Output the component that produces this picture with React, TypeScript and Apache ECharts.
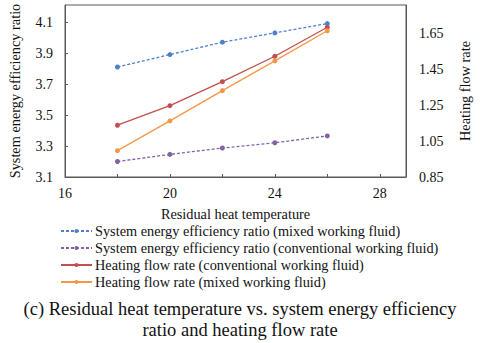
import React, { useEffect, useRef } from "react";
import * as echarts from "echarts";

const temps = [18, 20, 22, 24, 26];
const seerMixed = [3.81, 3.89, 3.97, 4.03, 4.09];
const seerConv = [3.2, 3.246, 3.287, 3.321, 3.365];
const flowConv = [1.139, 1.248, 1.382, 1.524, 1.686];
const flowMixed = [0.997, 1.163, 1.332, 1.498, 1.666];

const names = [
  "System energy efficiency ratio (mixed working fluid)",
  "System energy efficiency ratio (conventional working fluid)",
  "Heating flow rate (conventional working fluid)",
  "Heating flow rate (mixed working fluid)",
];
const colors = ["#4F81C7", "#8064A2", "#C0504D", "#F79646"];
const caption = [
  "(c) Residual heat temperature vs. system energy efficiency",
  "ratio and heating flow rate",
];

const FONT = "Liberation Serif";

export default function App() {
  const ref = useRef<HTMLDivElement>(null);
  useEffect(() => {
    if (!ref.current) return;
    const chart = echarts.init(ref.current, undefined, { renderer: "svg" });
    const pair = (ys: number[]) => temps.map((t, i) => [t, ys[i]]);
    const mk = (i: number, ys: number[], axis: number, dashed: boolean) => ({
      name: names[i],
      type: "line",
      yAxisIndex: axis,
      data: pair(ys),
      symbol: "circle",
      symbolSize: 5,
      color: colors[i],
      lineStyle: { width: 1.3, type: dashed ? [3, 2] : "solid", color: colors[i] },
      itemStyle: { color: colors[i] },
    });
    const txt = (size: number) => ({ fontFamily: FONT, fontSize: size, color: "#111" });
    chart.setOption({
      animation: false,
      textStyle: { fontFamily: FONT },
      grid: {
        left: 56,
        right: 63,
        top: 5,
        bottom: 166,
        show: true,
        borderColor: "#595959",
        borderWidth: 1,
      },
      legend: {
        orient: "vertical",
        left: 55,
        top: 219,
        itemWidth: 31,
        itemHeight: 5,
        itemGap: 3,
        data: names,
        textStyle: { ...txt(14.3), padding: [0, 0, 0, -2] },
      },
      xAxis: {
        type: "value",
        min: 16,
        max: 29,
        interval: 2,
        name: "Residual heat temperature",
        nameLocation: "middle",
        nameGap: 30,
        nameTextStyle: txt(14.3),
        axisLine: { lineStyle: { color: "#595959" } },
        axisTick: { inside: true, length: 3, lineStyle: { color: "#595959" } },
        splitLine: { show: false },
        axisLabel: {
          margin: 9,
          ...txt(14),
          showMaxLabel: false,
          formatter: (v: number) => ((v - 16) % 4 === 0 ? String(v) : ""),
        },
      },
      yAxis: [
        {
          type: "value",
          min: 3.1,
          max: 4.21,
          interval: 0.2,
          name: "System energy efficiency ratio",
          nameLocation: "middle",
          nameGap: 43,
          nameTextStyle: txt(14.3),
          axisLine: { show: true, lineStyle: { color: "#595959" } },
          axisTick: { show: true, inside: true, length: 3, lineStyle: { color: "#595959" } },
          splitLine: { show: false },
          axisLabel: {
            margin: 12,
            ...txt(14),
            showMaxLabel: false,
            formatter: (v: number) => v.toFixed(1),
          },
        },
        {
          type: "value",
          min: 0.85,
          max: 1.81,
          interval: 0.2,
          position: "right",
          name: "Heating flow rate",
          nameLocation: "middle",
          nameGap: 52,
          nameRotate: 90,
          nameTextStyle: txt(14.3),
          axisLine: { show: true, lineStyle: { color: "#595959" } },
          axisTick: { show: false },
          splitLine: { show: false },
          axisLabel: {
            margin: 13,
            ...txt(14),
            showMaxLabel: false,
            formatter: (v: number) => v.toFixed(2),
          },
        },
      ],
      series: [
        mk(0, seerMixed, 0, true),
        mk(1, seerConv, 0, true),
        mk(2, flowConv, 1, false),
        mk(3, flowMixed, 1, false),
      ],
      graphic: [
        {
          type: "text",
          x: 240,
          y: 298,
          style: {
            text: caption.join("\n"),
            fontFamily: FONT,
            fontSize: 18.5,
            lineHeight: 21,
            fill: "#111",
            align: "center",
            verticalAlign: "top",
          },
        },
      ],
    });
    return () => chart.dispose();
  }, []);
  return <div ref={ref} style={{ width: 480, height: 343, position: "absolute", left: 0, top: 0 }} />;
}
